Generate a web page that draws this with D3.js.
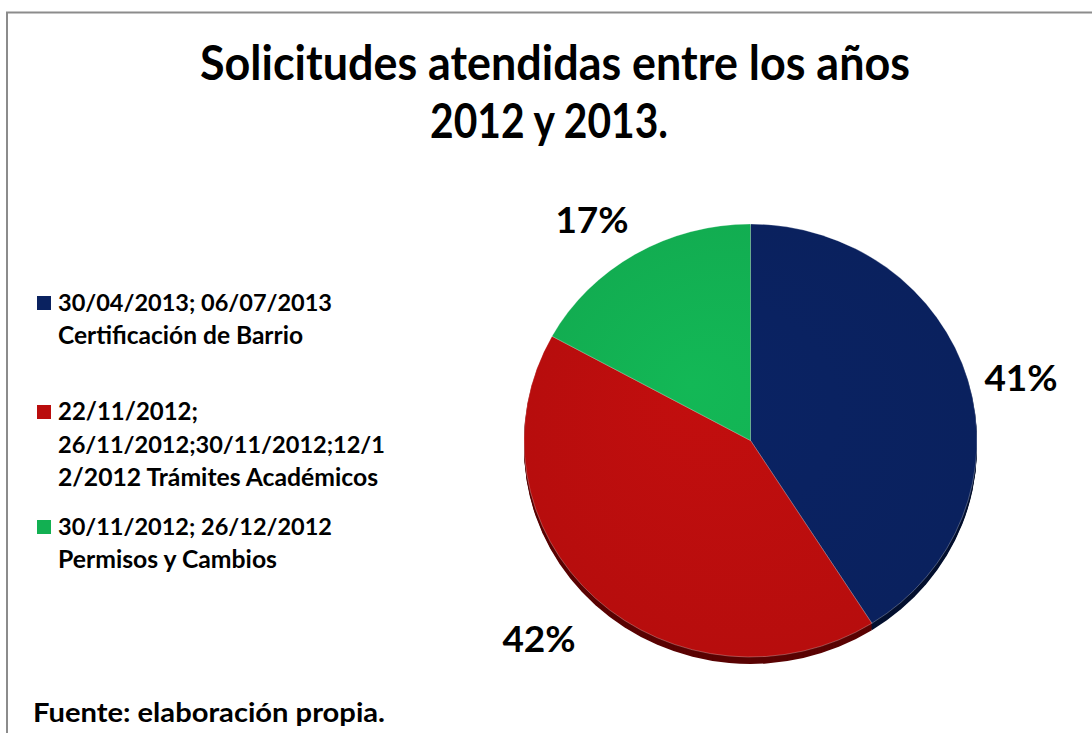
<!DOCTYPE html>
<html>
<head>
<meta charset="utf-8">
<script src="https://cdn.jsdelivr.net/npm/d3@7"></script>
<style>
  html, body { margin: 0; padding: 0; background: #fff; }
  svg { display: block; }
  text { font-family: Lato, "Open Sans", sans-serif; font-weight: bold; fill: #000; }
</style>
</head>
<body>
<svg id="chart" width="1092" height="733"></svg>
<script>
// ---- data ----
const titleLines = ["Solicitudes atendidas entre los años", "2012 y 2013."];
const categories = [
  ["30/04/2013; 06/07/2013", "Certificación de Barrio"],
  ["22/11/2012;", "26/11/2012;30/11/2012;12/1", "2/2012 Trámites Académicos"],
  ["30/11/2012; 26/12/2012", "Permisos y Cambios"]
];
const values = [41, 42, 17];
const percentLabels = ["41%", "42%", "17%"];
const colors = ["#0a2260", "#ba0d0d", "#12b052"];
const rimColors = ["#04102f", "#5a0303", "#0a6a30"];
const sourceNote = "Fuente: elaboración propia.";

// ---- layout ----
const svg = d3.select("#chart");
const W = 1092, H = 733;

// frame
svg.append("path")
  .attr("d", `M7,${H} L7,12.5 L${W},12.5`)
  .attr("fill", "none").attr("stroke", "#8c8c8c").attr("stroke-width", 2);

// text helper: height via font-size; width fitted by scaling font-size within limits, then textLength
function addText(x, y, txt, fs, width, anchor, maxGrow) {
  const t = svg.append("text").attr("x", x).attr("y", y)
    .attr("font-size", fs).attr("text-anchor", anchor || "start").text(txt);
  const w = t.node().getComputedTextLength();
  if (width && Math.abs(w - width) > 1) {
    if (w < width) {
      const nf = Math.min(fs * width / w, fs * (maxGrow || 1.08));
      t.attr("font-size", nf);
    }
    t.attr("textLength", width).attr("lengthAdjust", "spacingAndGlyphs");
  }
  return t;
}

// title
addText(555, 80, titleLines[0], 47, 710, "middle");
addText(549, 138, titleLines[1], 47, 238, "middle");

// pie
const cx = 750.5, cy = 440.5, rx = 226.5, ry = 216.5, depth = 7;
const pie = d3.pie().sort(null).value(d => d)(values);
const arc = d3.arc().innerRadius(0).outerRadius(rx);

const defs = svg.append("defs");
colors.forEach((c, i) => {
  const g = defs.append("radialGradient").attr("id", "g" + i)
    .attr("gradientUnits", "userSpaceOnUse").attr("cx", 0).attr("cy", 0).attr("r", rx)
    .attr("fx", -60).attr("fy", -60);
  g.append("stop").attr("offset", "0%").attr("stop-color", d3.color(c).brighter(0.12));
  g.append("stop").attr("offset", "100%").attr("stop-color", d3.color(c).darker(0.05));
});

for (let d = depth; d >= 1; d--) {
  svg.append("g")
    .attr("transform", `translate(${cx},${cy + d}) scale(1,${ry / rx})`)
    .selectAll("path").data(pie).join("path")
    .attr("d", arc)
    .attr("fill", (p, i) => rimColors[i]);
}
svg.append("g")
  .attr("transform", `translate(${cx},${cy}) scale(1,${ry / rx})`)
  .selectAll("path").data(pie).join("path")
  .attr("d", arc)
  .attr("fill", (p, i) => `url(#g${i})`)
  .attr("stroke", "rgba(255,255,255,0.35)").attr("stroke-width", 0.8);

// percentage labels
const labelPos = [[1021, 391], [539, 652], [592, 233]];
percentLabels.forEach((t, i) => {
  addText(labelPos[i][0], labelPos[i][1], t, 37, 73, "middle");
});

// legend
const legendY = [311, 420, 535];
const legendW = [[274, 245], [140, 327, 320], [274, 219]];
const lineH = 33;
categories.forEach((lines, i) => {
  svg.append("rect").attr("x", 37).attr("y", legendY[i] - 15).attr("width", 14).attr("height", 14)
    .attr("fill", colors[i]);
  lines.forEach((ln, j) => {
    addText(58, legendY[i] + j * lineH, ln, 22.5, legendW[i][j]);
  });
});

// source note
addText(33, 722, sourceNote, 22.5, 352, "start", 1.2);
</script>
</body>
</html>
